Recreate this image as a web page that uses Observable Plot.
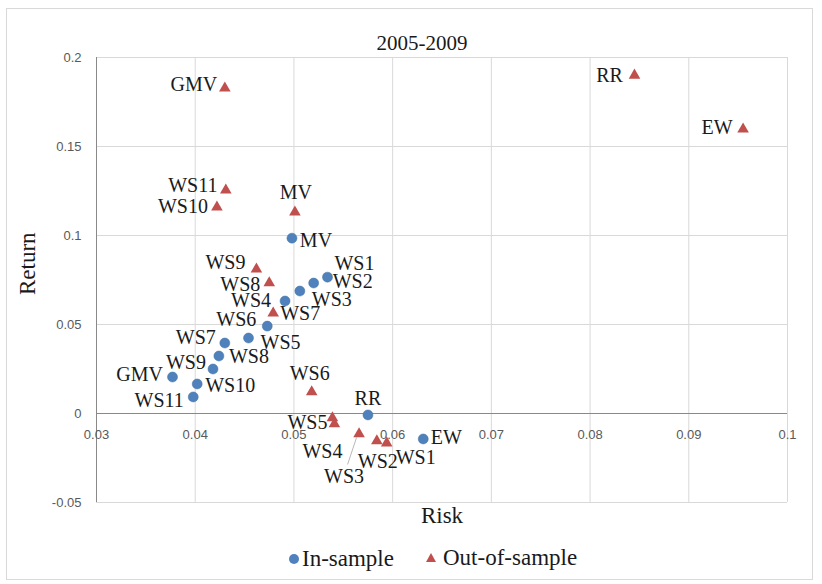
<!DOCTYPE html>
<html>
<head>
<meta charset="utf-8">
<script src="https://cdn.jsdelivr.net/npm/d3@7"></script>
<script src="https://cdn.jsdelivr.net/npm/@observablehq/plot@0.6"></script>
<style>
html,body{margin:0;padding:0;background:#fff;}
#wrap{position:relative;width:822px;height:584px;overflow:hidden;}
#wrap svg.plot{position:absolute;left:0;top:0;}
#border{position:absolute;left:6px;top:8px;width:807px;height:572px;border:1px solid #d9d9d9;box-sizing:border-box;}
.lg{position:absolute;font-family:"Liberation Serif",serif;font-size:23px;line-height:24px;color:#1a1a1a;white-space:nowrap;}
.sym{position:absolute;}
</style>
</head>
<body>
<div id="wrap">
  <div id="border"></div>
  <svg class="sym" style="left:288px;top:553px" width="12" height="12"><circle cx="6" cy="6" r="5" fill="#4f81bd"/></svg>
  <div class="lg" style="left:302px;top:547px">In-sample</div>
  <svg class="sym" style="left:425px;top:552px" width="12" height="12"><polygon points="6,1 11,10 1,10" fill="#c0504d"/></svg>
  <div class="lg" style="left:443px;top:546px">Out-of-sample</div>
</div>
<script>
// ---- data ----
const title = "2005-2009";
const xTitle = "Risk";
const yTitle = "Return";

const inLabels = ["MV","WS1","WS2","WS3","WS4","WS5","WS6","WS7","WS8","WS9","WS10","WS11","GMV","RR","EW"];
const inRisk   = [0.0498,0.0534,0.0520,0.0506,0.0491,0.0454,0.0473,0.0430,0.0424,0.0418,0.0402,0.0398,0.0377,0.0575,0.0631];
const inReturn = [0.0985,0.0766,0.0733,0.0688,0.0632,0.0424,0.0491,0.0396,0.0323,0.0250,0.0166,0.0093,0.0205,-0.0008,-0.0143];

const outLabels = ["MV","WS1","WS2","WS3","WS4","WS5","WS6","WS7","WS8","WS9","WS10","WS11","GMV","RR","EW"];
const outRisk   = [0.0501,0.0594,0.0584,0.0566,0.0541,0.0539,0.0518,0.0479,0.0475,0.0462,0.0422,0.0431,0.0430,0.0845,0.0955];
const outReturn = [0.1131,-0.0166,-0.0154,-0.0115,-0.0059,-0.0025,0.0121,0.0564,0.0733,0.0811,0.1159,0.1255,0.1828,0.1900,0.1597];

const xTicks = [0.03,0.04,0.05,0.06,0.07,0.08,0.09,0.1];
const xTickLabels = ["0.03","0.04","0.05","0.06","0.07","0.08","0.09","0.1"];
const yTicks = [-0.05,0,0.05,0.1,0.15,0.2];
const yTickLabels = ["-0.05","0","0.05","0.1","0.15","0.2"];

// label placement (pixel offsets of each data label from its marker)
const inLabelOffset  = [[24,2],[27,-14],[39,-1],[32,9],[-34,0],[32,5],[-31,-7],[-29,-5],[30,1],[-27,-6],[33,2],[-34,4],[-33,-2],[0,-16],[23,-1]];
const outLabelOffset = [[1,-20],[29,15],[1,21],[-15,43],[-12,28],[-25,5],[-2,-18],[27,0],[-29,2],[-31,-7],[-34,-1],[-33,-5],[-31,-4],[-25,0],[-26,-2]];
// leader line for the displaced out-of-sample WS3 label
const leaderLabel = "WS3";

const inData = inLabels.map((name,i)=>({name, risk:inRisk[i], ret:inReturn[i], off:inLabelOffset[i]}));
const outData = outLabels.map((name,i)=>({name, risk:outRisk[i], ret:outReturn[i], off:outLabelOffset[i]}));

const labelMarks = [...inData, ...outData].map(d =>
  Plot.text([d], {x:"risk", y:"ret", text:"name", dx:d.off[0], dy:d.off[1], fontSize:20, fill:"#1a1a1a"})
);

function leaderMark(index, scales) {
  const d = outData.find(o => o.name === leaderLabel);
  const px = scales.x(d.risk), py = scales.y(d.ret);
  const line = document.createElementNS("http://www.w3.org/2000/svg", "line");
  line.setAttribute("x1", px - 2); line.setAttribute("y1", py + 4);
  line.setAttribute("x2", px + d.off[0] + 4); line.setAttribute("y2", py + d.off[1] - 12);
  line.setAttribute("stroke", "#a6a6a6"); line.setAttribute("stroke-width", "0.8");
  const g = document.createElementNS("http://www.w3.org/2000/svg", "g");
  g.appendChild(line);
  return g;
}

const tickFont = {fontFamily:"'Liberation Sans',sans-serif", fontSize:13, fill:"#595959"};

const chart = Plot.plot({
  width: 822,
  height: 584,
  marginLeft: 96,
  marginRight: 35,
  marginTop: 57,
  marginBottom: 82,
  x: {domain:[0.03,0.1], axis:null},
  y: {domain:[-0.05,0.2], axis:null},
  style: {fontFamily:"'Liberation Serif',serif", background:"transparent", color:"#1a1a1a"},
  marks: [
    Plot.ruleX(xTicks, {stroke:"#d9d9d9"}),
    Plot.ruleY(yTicks, {stroke:"#d9d9d9"}),
    Plot.ruleY([0], {stroke:"#898989"}),
    Plot.ruleX([0.03], {stroke:"#898989"}),
    Plot.text(xTicks, {x:d=>d, y:()=>0, dy:21, text:(d,i)=>xTickLabels[i], ...tickFont}),
    Plot.text(yTicks, {y:d=>d, frameAnchor:"left", dx:-15, textAnchor:"end", text:(d,i)=>yTickLabels[i], ...tickFont}),
    leaderMark,
    Plot.dot(inData, {x:"risk", y:"ret", r:5, symbol:"circle", fill:"#4f81bd", stroke:"#44729f", strokeWidth:0.5}),
    Plot.dot(outData, {x:"risk", y:"ret", r:4.3, symbol:"triangle", fill:"#c0504d"}),
    ...labelMarks,
    Plot.text([title], {frameAnchor:"top", dx:-20, dy:-22, text:d=>d, fontSize:21}),
    Plot.text([xTitle], {frameAnchor:"bottom", dy:20, text:d=>d, fontSize:23}),
    Plot.text([yTitle], {frameAnchor:"left", dx:-69, dy:15, rotate:-90, text:d=>d, fontSize:23})
  ]
});
chart.classList.add("plot");
document.getElementById("wrap").appendChild(chart);
</script>
</body>
</html>
